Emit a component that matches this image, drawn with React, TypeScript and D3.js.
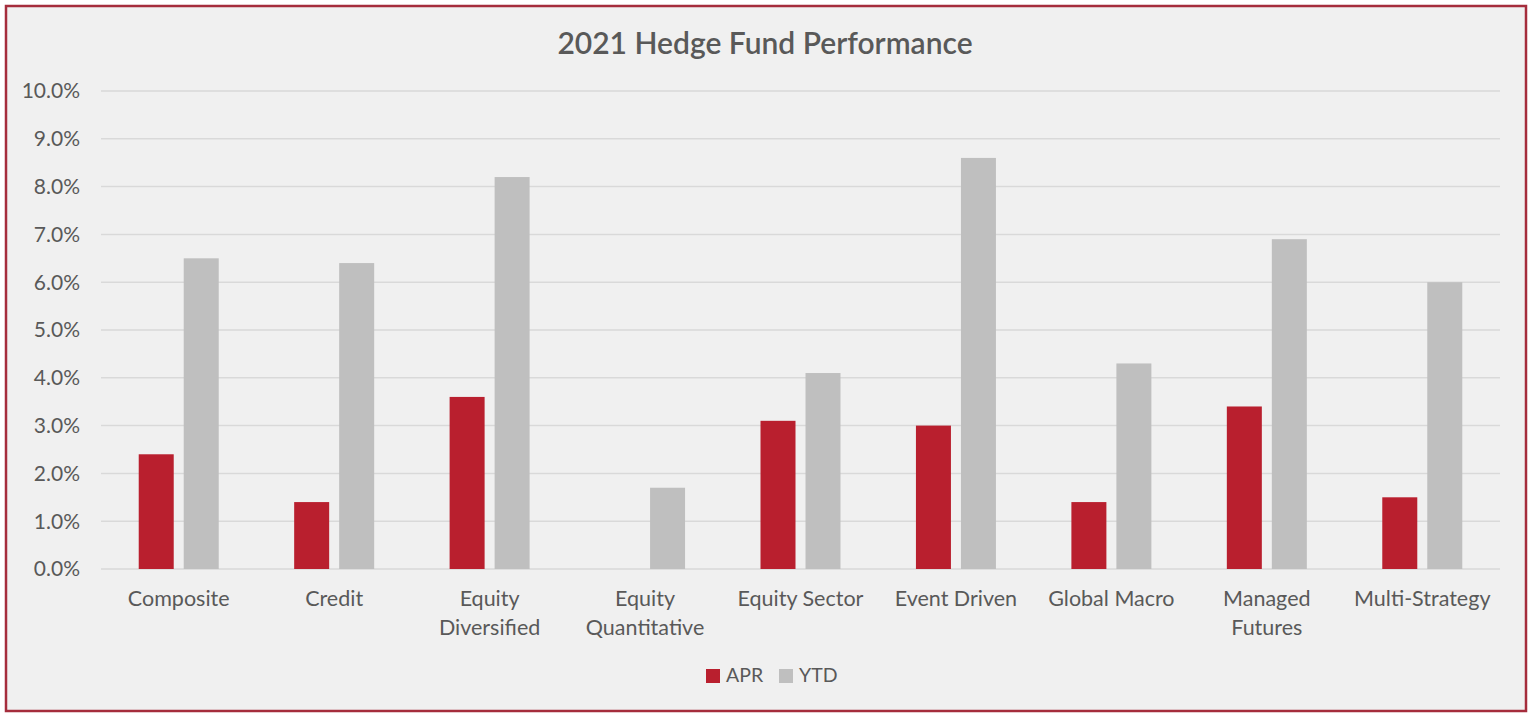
import React from "react";
import * as d3 from "d3";

const categories = [
  ["Composite"],
  ["Credit"],
  ["Equity", "Diversified"],
  ["Equity", "Quantitative"],
  ["Equity Sector"],
  ["Event Driven"],
  ["Global Macro"],
  ["Managed", "Futures"],
  ["Multi-Strategy"],
];
const aprValues = [2.4, 1.4, 3.6, 0.0, 3.1, 3.0, 1.4, 3.4, 1.5];
const ytdValues = [6.5, 6.4, 8.2, 1.7, 4.1, 8.6, 4.3, 6.9, 6.0];
const yTicks = [0, 1, 2, 3, 4, 5, 6, 7, 8, 9, 10];
const seriesNames = ["APR", "YTD"];
const seriesColors = ["#b91f2e", "#bfbfbf"];

const W = 1531;
const H = 720;
const FONT = "Lato, 'Noto Sans', sans-serif";

export default function App() {
  const x0 = d3
    .scaleBand<number>()
    .domain(d3.range(categories.length))
    .range([101, 1500]);
  const y = d3.scaleLinear().domain([0, 10]).range([569, 91]);
  const barW = 35;
  const gap = 10;
  const series = [aprValues, ytdValues];

  return (
    <svg
      width={W}
      height={H}
      style={{ position: "absolute", left: 0, top: 0, background: "#ffffff" }}
      fontFamily={FONT}
    >
      <rect x={6} y={6} width={1520} height={705} fill="#f0f0f0" stroke="#a52d3c" strokeWidth={2.5} />
      <text x={765} y={54} textAnchor="middle" fontSize={30} fontWeight={600} fill="#595959">
        2021 Hedge Fund Performance
      </text>
      {yTicks.map((t) => (
        <g key={t}>
          <line x1={101} x2={1500} y1={y(t)} y2={y(t)} stroke="#d9d9d9" strokeWidth={1.5} />
          <text x={80} y={y(t)} dy="0.35em" textAnchor="end" fontSize={21} fill="#595959">
            {d3.format(".1f")(t) + "%"}
          </text>
        </g>
      ))}
      {categories.map((c, i) => {
        const cx = (x0(i) as number) + x0.bandwidth() / 2;
        return (
          <g key={i}>
            {series.map((vals, s) => {
              const v = vals[i];
              const bx = cx - gap / 2 - barW + s * (barW + gap);
              return v > 0 ? (
                <rect key={s} x={bx} y={y(v)} width={barW} height={y(0) - y(v)} fill={seriesColors[s]} />
              ) : null;
            })}
            {c.map((line, li) => (
              <text key={li} x={cx} y={606 + li * 29} textAnchor="middle" fontSize={21.5} fill="#595959">
                {line}
              </text>
            ))}
          </g>
        );
      })}
      {seriesNames.map((n, s) => {
        const lx = [706, 779][s];
        return (
          <g key={n}>
            <rect x={lx} y={669} width={14} height={14} fill={seriesColors[s]} />
            <text x={lx + 20} y={682} fontSize={19.5} fill="#595959">
              {n}
            </text>
          </g>
        );
      })}
    </svg>
  );
}
